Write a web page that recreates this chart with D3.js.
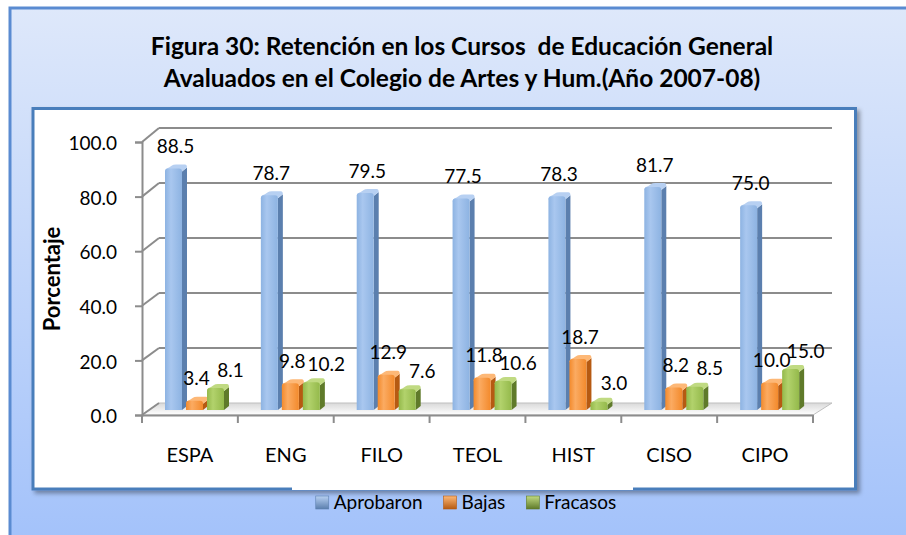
<!DOCTYPE html>
<html lang="es">
<head>
  <meta charset="UTF-8">
  <title>Figura 30: Retención en los Cursos de Educación General</title>
  <script src="https://cdn.jsdelivr.net/npm/d3@7"></script>
  <style>
    body { margin: 0; background: #fff; }
    svg text { font-family: Lato, "Open Sans", sans-serif; fill: #000; }
  </style>
</head>
<body>
<script>
  // data
  var categories = ["ESPA", "ENG", "FILO", "TEOL", "HIST", "CISO", "CIPO"];
  var seriesNames = ["Aprobaron", "Bajas", "Fracasos"];
  var aprobaron = [88.5, 78.7, 79.5, 77.5, 78.3, 81.7, 75.0];
  var bajas = [3.4, 9.8, 12.9, 11.8, 18.7, 8.2, 10.0];
  var fracasos = [8.1, 10.2, 7.6, 10.6, 3.0, 8.5, 15.0];
  var yTicks = [0, 20, 40, 60, 80, 100];
  var titleLines = ["Figura 30: Retención en los Cursos  de Educación General",
                    "Avaluados en el Colegio de Artes y Hum.(Año 2007-08)"];
  var yTitle = "Porcentaje";

  var values = [aprobaron, bajas, fracasos];
  var colors = [
    { light: "#a9c7ef", front: "#8db3e2", dark: "#5b7fae", top: "#b7d0f2" },
    { light: "#fbab62", front: "#f38a2c", dark: "#b65a12", top: "#fdb877" },
    { light: "#b2d26c", front: "#94b94b", dark: "#5f7a2a", top: "#c0da82" }
  ];

  var W = 906, H = 535;
  var svg = d3.select("body").append("svg")
    .attr("width", W).attr("height", H);
  var defs = svg.append("defs");

  var bg = defs.append("linearGradient").attr("id", "bg")
    .attr("x1", 0).attr("y1", 0).attr("x2", 0).attr("y2", 1);
  bg.append("stop").attr("offset", "0%").attr("stop-color", "#dee8fa");
  bg.append("stop").attr("offset", "100%").attr("stop-color", "#a3c2fa");

  var shadow = defs.append("filter").attr("id", "shadow")
    .attr("x", "-5%").attr("y", "-5%").attr("width", "110%").attr("height", "115%");
  shadow.append("feDropShadow").attr("dx", 3).attr("dy", 3)
    .attr("stdDeviation", 2).attr("flood-color", "#000").attr("flood-opacity", 0.35);

  colors.forEach(function (c, i) {
    var g = defs.append("linearGradient").attr("id", "front" + i)
      .attr("x1", 0).attr("y1", 0).attr("x2", 1).attr("y2", 0);
    g.append("stop").attr("offset", "0%").attr("stop-color", c.front);
    g.append("stop").attr("offset", "35%").attr("stop-color", c.light);
    g.append("stop").attr("offset", "100%").attr("stop-color", c.front);
    var s = defs.append("linearGradient").attr("id", "swatch" + i)
      .attr("x1", 0).attr("y1", 0).attr("x2", 0).attr("y2", 1);
    s.append("stop").attr("offset", "0%").attr("stop-color", c.top);
    s.append("stop").attr("offset", "100%").attr("stop-color", c.dark);
  });

  var floorGrad = defs.append("linearGradient").attr("id", "floor")
    .attr("x1", 0).attr("y1", 0).attr("x2", 0).attr("y2", 1);
  floorGrad.append("stop").attr("offset", "0%").attr("stop-color", "#d9d9d9");
  floorGrad.append("stop").attr("offset", "100%").attr("stop-color", "#ffffff");

  // outer frame
  svg.append("rect")
    .attr("x", 10).attr("y", 8).attr("width", W).attr("height", H)
    .attr("fill", "url(#bg)").attr("stroke", "#5a8bd1").attr("stroke-width", 3);

  // title
  svg.append("g").selectAll("text").data(titleLines).enter().append("text")
    .attr("x", 462).attr("y", function (d, i) { return 55 + i * 32; })
    .attr("text-anchor", "middle")
    .style("font-size", "24.5px").style("font-weight", "bold")
    .style("white-space", "pre")
    .text(function (d) { return d; });

  // inner plot box
  svg.append("rect")
    .attr("x", 33).attr("y", 108.5).attr("width", 822.5).attr("height", 380.5)
    .attr("fill", "#fff").attr("stroke", "#4a7ebb").attr("stroke-width", 3)
    .attr("filter", "url(#shadow)");

  // scales: front plane and back wall
  var x = d3.scaleBand().domain(categories).range([142, 813]).padding(0);
  var yFront = d3.scaleLinear().domain([0, 100]).range([415, 142]);
  var yBack = d3.scaleLinear().domain([0, 100]).range([403, 128]);
  var xBack = d3.scaleLinear().domain([142, 813]).range([159, 832]);
  var yBar = d3.scaleLinear().domain([0, 100]).range([410, 137]);
  var xs = d3.scaleBand().domain(d3.range(seriesNames.length)).range([23, 86]);
  var barW = 17, sideW = 5, sideH = 4;

  // floor slab
  svg.append("path")
    .attr("d", "M" + x.range()[0] + "," + yFront(0) +
      "L" + x.range()[1] + "," + yFront(0) +
      "L" + xBack(x.range()[1]) + "," + yBack(0) +
      "L" + xBack(x.range()[0]) + "," + yBack(0) + "Z")
    .attr("fill", "url(#floor)").attr("stroke", "#bfbfbf").attr("stroke-width", 1);

  // back wall gridlines and side-wall diagonals
  var grid = svg.append("g");
  grid.selectAll("line.h").data(yTicks.slice(1)).enter().append("line")
    .attr("x1", xBack(142)).attr("x2", xBack(813))
    .attr("y1", function (d) { return yBack(d); })
    .attr("y2", function (d) { return yBack(d); })
    .attr("stroke", "#8c8c8c").attr("stroke-width", 2);
  grid.selectAll("line.d").data(yTicks).enter().append("line")
    .attr("x1", 142).attr("x2", xBack(142))
    .attr("y1", function (d) { return yFront(d); })
    .attr("y2", function (d) { return yBack(d); })
    .attr("stroke", "#8c8c8c").attr("stroke-width", 2);

  // y axis
  var yAxis = svg.append("g").attr("transform", "translate(142,0)")
    .call(d3.axisLeft(yFront).tickValues(yTicks).tickSize(7).tickPadding(18)
      .tickFormat(d3.format(".1f")));
  yAxis.select(".domain").attr("stroke", "#8c8c8c").attr("stroke-width", 2);
  yAxis.selectAll(".tick line").attr("stroke", "#8c8c8c").attr("stroke-width", 2);
  yAxis.selectAll(".tick text").style("font-size", "19px").attr("dy", "0.4em");

  // x axis
  var xAxis = svg.append("g").attr("transform", "translate(0," + yFront(0) + ")")
    .call(d3.axisBottom(x).tickSize(0).tickPadding(0));
  xAxis.select(".domain").attr("stroke", "#8c8c8c").attr("stroke-width", 2);
  xAxis.selectAll(".tick text").style("font-size", "20px")
    .attr("y", 47).attr("dy", 0);
  svg.append("g").selectAll("line").data(categories.concat(["end"])).enter().append("line")
    .attr("x1", function (d, i) { return x.range()[0] + i * x.step(); })
    .attr("x2", function (d, i) { return x.range()[0] + i * x.step(); })
    .attr("y1", yFront(0)).attr("y2", yFront(0) + 8)
    .attr("stroke", "#8c8c8c").attr("stroke-width", 2);

  // 3D-looking columns
  var bars = svg.append("g");
  categories.forEach(function (cat, ci) {
    values.forEach(function (ser, si) {
      var v = ser[ci];
      var x0 = x(cat) + xs(si);
      var top = yBar(v), base = yBar(0);
      var c = colors[si];
      var r = Math.min(3, (base - top) / 2);
      var g = bars.append("g");
      // right side face
      g.append("path")
        .attr("d", "M" + (x0 + barW) + "," + (top + r) +
          "L" + (x0 + barW + sideW) + "," + (top + r - sideH) +
          "L" + (x0 + barW + sideW) + "," + (base - sideH) +
          "L" + (x0 + barW) + "," + base + "Z")
        .attr("fill", c.dark);
      // top face
      g.append("path")
        .attr("d", "M" + x0 + "," + (top + r) +
          "Q" + x0 + "," + top + " " + (x0 + r + 1) + "," + (top - 1) +
          "L" + (x0 + sideW + 2) + "," + (top - sideH + 1) +
          "Q" + (x0 + sideW + 3) + "," + (top - sideH) + " " + (x0 + sideW + 6) + "," + (top - sideH) +
          "L" + (x0 + barW + sideW - 2) + "," + (top - sideH) +
          "Q" + (x0 + barW + sideW) + "," + (top - sideH) + " " + (x0 + barW + sideW) + "," + (top + r - sideH) +
          "L" + (x0 + barW) + "," + (top + r) + "Z")
        .attr("fill", c.top);
      // front face
      g.append("path")
        .attr("d", "M" + x0 + "," + base +
          "L" + x0 + "," + (top + r) +
          "Q" + x0 + "," + top + " " + (x0 + r) + "," + top +
          "L" + (x0 + barW - r) + "," + top +
          "Q" + (x0 + barW) + "," + top + " " + (x0 + barW) + "," + (top + r) +
          "L" + (x0 + barW) + "," + base + "Z")
        .attr("fill", "url(#front" + si + ")");
    });
  });

  // value labels
  var labels = svg.append("g").style("font-size", "19px");
  categories.forEach(function (cat, ci) {
    values.forEach(function (ser, si) {
      var v = ser[ci];
      var cx = x(cat) + xs(si) + barW / 2 + 2 + (si === 2 ? 13 : 0);
      var cy = yBar(v) - (si === 2 ? 18 : 22);
      labels.append("text")
        .attr("x", cx).attr("y", cy).attr("dy", "0.35em")
        .attr("text-anchor", "middle")
        .text(d3.format(".1f")(v));
    });
  });

  // y axis title
  svg.append("text")
    .attr("transform", "translate(60,279) rotate(-90)")
    .attr("text-anchor", "middle")
    .style("font-size", "22px").style("font-weight", "bold")
    .text(yTitle);

  // legend
  svg.append("rect")
    .attr("x", 292).attr("y", 470).attr("width", 341).attr("height", 20)
    .attr("fill", "#fff");
  var legend = svg.append("g");
  var items = legend.selectAll("g").data(seriesNames).enter().append("g");
  items.append("rect")
    .attr("width", 13).attr("height", 13).attr("y", 496)
    .attr("fill", function (d, i) { return "url(#swatch" + i + ")"; })
    .attr("stroke", function (d, i) { return colors[i].dark; }).attr("stroke-width", 0.6);
  items.append("text")
    .attr("x", 18).attr("y", 508.5)
    .style("font-size", "19px")
    .text(function (d) { return d; });
  var pos = 0, starts = [];
  items.each(function () {
    starts.push(pos);
    pos += 18 + d3.select(this).select("text").node().getComputedTextLength() + 21;
  });
  var total = pos - 21, left = 466 - total / 2;
  items.attr("transform", function (d, i) { return "translate(" + (left + starts[i]) + ",0)"; });
</script>
</body>
</html>
